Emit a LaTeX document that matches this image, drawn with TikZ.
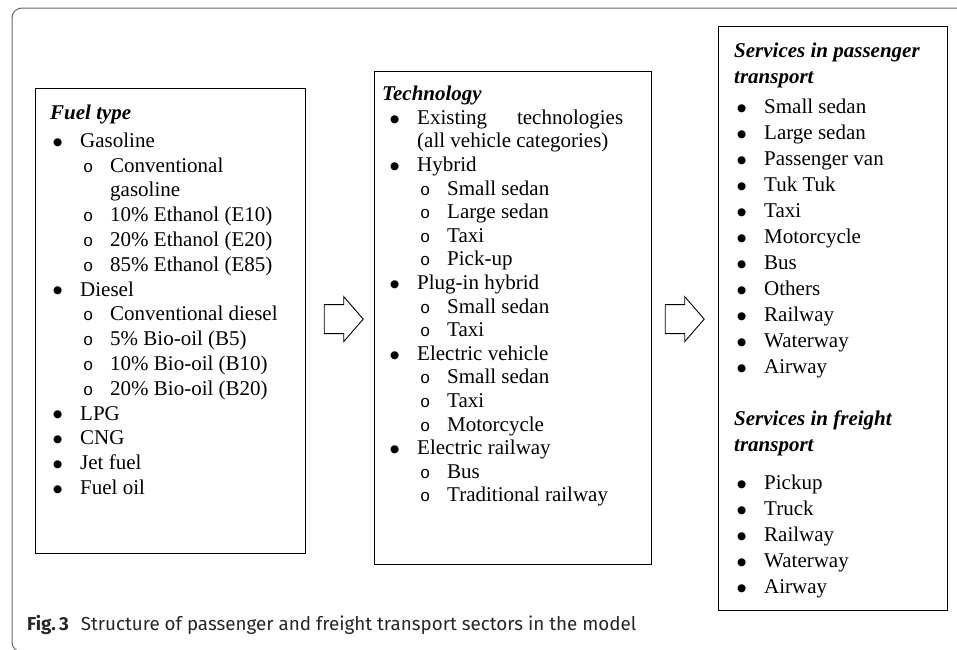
\documentclass[tikz,border=0pt]{standalone}
\usepackage{fontspec}
\setmainfont{Liberation Serif}
\setmonofont{Liberation Mono}
\newfontfamily\capfont{Fira Sans}
\newfontfamily\symfont{DejaVu Sans}
\usetikzlibrary{positioning,calc}

% list lines
\newcommand{\dotmark}{\raisebox{2.2pt}{\symfont\fontsize{10.5}{0}\selectfont ●}}
\newcommand{\ringmark}{{\fontsize{17}{0}\selectfont\ttfamily o}}
\newcommand{\bitem}[1]{\makebox[27pt][l]{\dotmark}#1}
\newcommand{\oitem}[1]{\hspace*{30pt}\makebox[27pt][l]{\ringmark}#1}
\newcommand{\ttl}[2][-3pt]{\hspace*{#1}\textbf{\textit{#2}}}

\begin{document}
\begin{tikzpicture}[x=1pt, y=1pt,
    panel/.style={draw, line width=1.2pt, anchor=north west, inner sep=0pt},
    listtxt/.style={anchor=north west, inner sep=0pt, align=left},
    frame/.style={draw=black!60, line width=1pt, rounded corners=10pt},
    blockarrow/.pic={\draw[line width=0.9pt, line join=miter] (0,14.5) -- (19.5,14.5) -- (19.5,22.5) -- (39,0) -- (19.5,-22.5) -- (19.5,-14.5) -- (0,-14.5) -- cycle;}
  ]
  \useasboundingbox (0,0) rectangle (957,-649);

  % outer frame
  \draw[frame] (40,-652) -- (12,-652) -- (12,-8) -- (957,-8);

  % boxes
  \node[panel, minimum width=270pt, minimum height=465pt] (fuel) at (35,-88) {};
  \node[panel, minimum width=277pt, minimum height=493pt] (tech) at (374,-71) {};
  \node[panel, minimum width=229pt, minimum height=584pt] (serv) at (718,-26) {};

  % arrows
  \pic at ([xshift=18pt,yshift=2pt]fuel.east) {blockarrow};
  \pic at ([xshift=13pt,yshift=-1pt]tech.east) {blockarrow};

  % Fuel type
  \node[listtxt, font=\fontsize{21}{24.8}\selectfont] (fueltxt)
    at ([shift={(18pt,-15pt)}]fuel.north west) {%
    \ttl{Fuel type}\rule{0pt}{16pt}\\[3.2pt]
    \bitem{Gasoline}\\
    \oitem{Conventional}\\
    \hspace*{57pt}gasoline\\
    \oitem{10\% Ethanol (E10)}\\
    \oitem{20\% Ethanol (E20)}\\
    \oitem{85\% Ethanol (E85)}\\
    \bitem{Diesel}\\
    \oitem{Conventional diesel}\\
    \oitem{5\% Bio-oil (B5)}\\
    \oitem{10\% Bio-oil (B10)}\\
    \oitem{20\% Bio-oil (B20)}\\
    \bitem{LPG}\\
    \bitem{CNG}\\
    \bitem{Jet fuel}\\
    \bitem{Fuel oil}};

  % Technology
  \node[listtxt, font=\fontsize{21}{23.6}\selectfont] (techtxt)
    at ([shift={(16pt,-13.5pt)}]tech.north west) {%
    \ttl[-8pt]{Technology}\rule{0pt}{16pt}\\
    \bitem{\makebox[206pt][s]{Existing technologies}}\\
    \hspace*{27pt}(all vehicle categories)\\
    \bitem{Hybrid}\\
    \oitem{Small sedan}\\
    \oitem{Large sedan}\\
    \oitem{Taxi}\\
    \oitem{Pick-up}\\
    \bitem{Plug-in hybrid}\\
    \oitem{Small sedan}\\
    \oitem{Taxi}\\
    \bitem{Electric vehicle}\\
    \oitem{Small sedan}\\
    \oitem{Taxi}\\
    \oitem{Motorcycle}\\
    \bitem{Electric railway}\\
    \oitem{Bus}\\
    \oitem{Traditional railway}};

  % Services
  \node[listtxt, font=\fontsize{21}{26}\selectfont] (servtxt)
    at ([shift={(19pt,-15pt)}]serv.north west) {%
    \ttl{Services in passenger}\rule{0pt}{16pt}\\
    \ttl{transport}\\[4pt]
    \bitem{Small sedan}\\
    \bitem{Large sedan}\\
    \bitem{Passenger van}\\
    \bitem{Tuk Tuk}\\
    \bitem{Taxi}\\
    \bitem{Motorcycle}\\
    \bitem{Bus}\\
    \bitem{Others}\\
    \bitem{Railway}\\
    \bitem{Waterway}\\
    \bitem{Airway}\\[26pt]
    \ttl{Services in freight}\\
    \ttl{transport}\\[12pt]
    \bitem{Pickup}\\
    \bitem{Truck}\\
    \bitem{Railway}\\
    \bitem{Waterway}\\
    \bitem{Airway}};

  % caption
  \node[anchor=base west, inner sep=0pt, text=black!85, font=\capfont\fontsize{18.8}{21}\selectfont] (cap)
    at (27,-630) {\textbf{Fig.\,3}\hspace{12pt}Structure of passenger and freight transport sectors in the model};
\end{tikzpicture}
\end{document}
